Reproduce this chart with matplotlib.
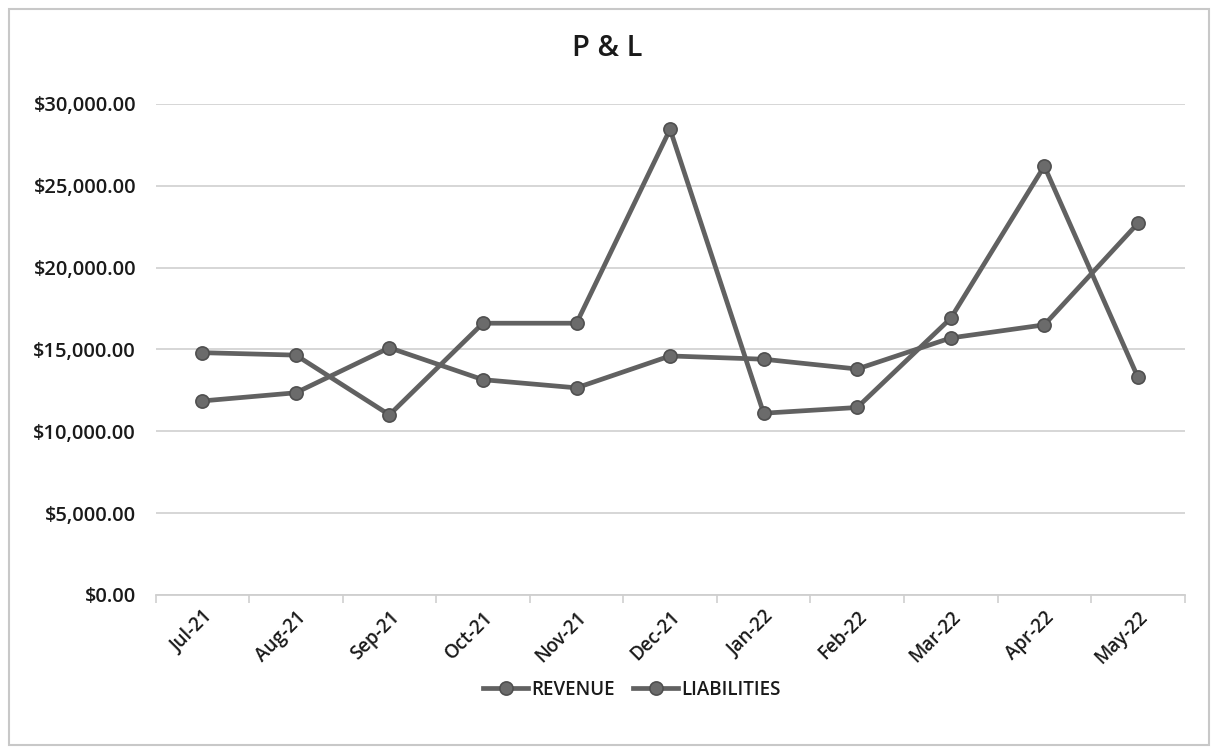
import matplotlib
matplotlib.use("Agg")
import matplotlib.pyplot as plt
from matplotlib.patches import Rectangle
from matplotlib.ticker import FuncFormatter, MultipleLocator

months = ["Jul-21", "Aug-21", "Sep-21", "Oct-21", "Nov-21", "Dec-21",
          "Jan-22", "Feb-22", "Mar-22", "Apr-22", "May-22"]
revenue = [11850, 12350, 15100, 13150, 12650, 14600, 14400, 13800, 15700, 16500, 22700]
liabilities = [14800, 14650, 11000, 16600, 16600, 28450, 11100, 11450, 16900, 26200, 13300]

plt.rcParams['font.family'] = ['Open Sans', 'DejaVu Sans']

fig = plt.figure(figsize=(12.15, 7.53), dpi=100)
ax = fig.add_axes([0.128, 0.21, 0.847, 0.652])

line_c = "#616161"
mk_c = "#6b6b6b"
for vals, name in [(revenue, "REVENUE"), (liabilities, "LIABILITIES")]:
    ax.plot(range(len(months)), vals, color=line_c, lw=3.4, marker='o',
            markersize=9.5, markerfacecolor=mk_c, markeredgecolor="#505050",
            markeredgewidth=1.2, label=name, solid_joinstyle='round')

ax.set_xlim(-0.5, len(months) - 0.5)
ax.set_ylim(0, 30000)
ax.yaxis.set_major_locator(MultipleLocator(5000))
ax.yaxis.set_major_formatter(FuncFormatter(lambda v, p: f"${v:,.2f}"))
ax.grid(axis='y', color='#d6d6d6', lw=1.4)
ax.set_axisbelow(True)
for s in ['top', 'right', 'left']:
    ax.spines[s].set_visible(False)
ax.spines['bottom'].set_color('#cfcfcf')
ax.spines['bottom'].set_linewidth(1.3)

ax.set_xticks(range(len(months)))
ax.set_xticklabels(months, rotation=45, ha='right', va='top',
                   rotation_mode='anchor', fontsize=13.5, color='#1a1a1a',
                   fontweight='semibold')
ax.tick_params(axis='x', length=0, pad=9)
ax.set_xticks([i - 0.5 for i in range(len(months) + 1)], minor=True)
ax.tick_params(axis='x', which='minor', length=6, color='#cfcfcf', width=1.2)
ax.tick_params(axis='y', length=0, pad=14, labelsize=14.5, labelcolor='#1a1a1a')
for t in ax.get_yticklabels():
    t.set_fontweight('semibold')

fig.text(0.5, 0.936, "P & L", ha='center', va='center', fontsize=21,
         color='#1a1a1a', fontweight='semibold')

leg = fig.legend(loc='center', bbox_to_anchor=(0.52, 0.084), ncol=2, frameon=False,
                 prop={'size': 13.5, 'weight': 'semibold'},
                 handlelength=2.4, columnspacing=1.0, handletextpad=0.15)
for t in leg.get_texts():
    t.set_color('#1a1a1a')

fig.patches.append(Rectangle((0.007, 0.01), 0.988, 0.978, transform=fig.transFigure,
                             fill=False, edgecolor='#c8c8c8', lw=1.5))

fig.savefig("out.png", dpi=100, facecolor='white')
